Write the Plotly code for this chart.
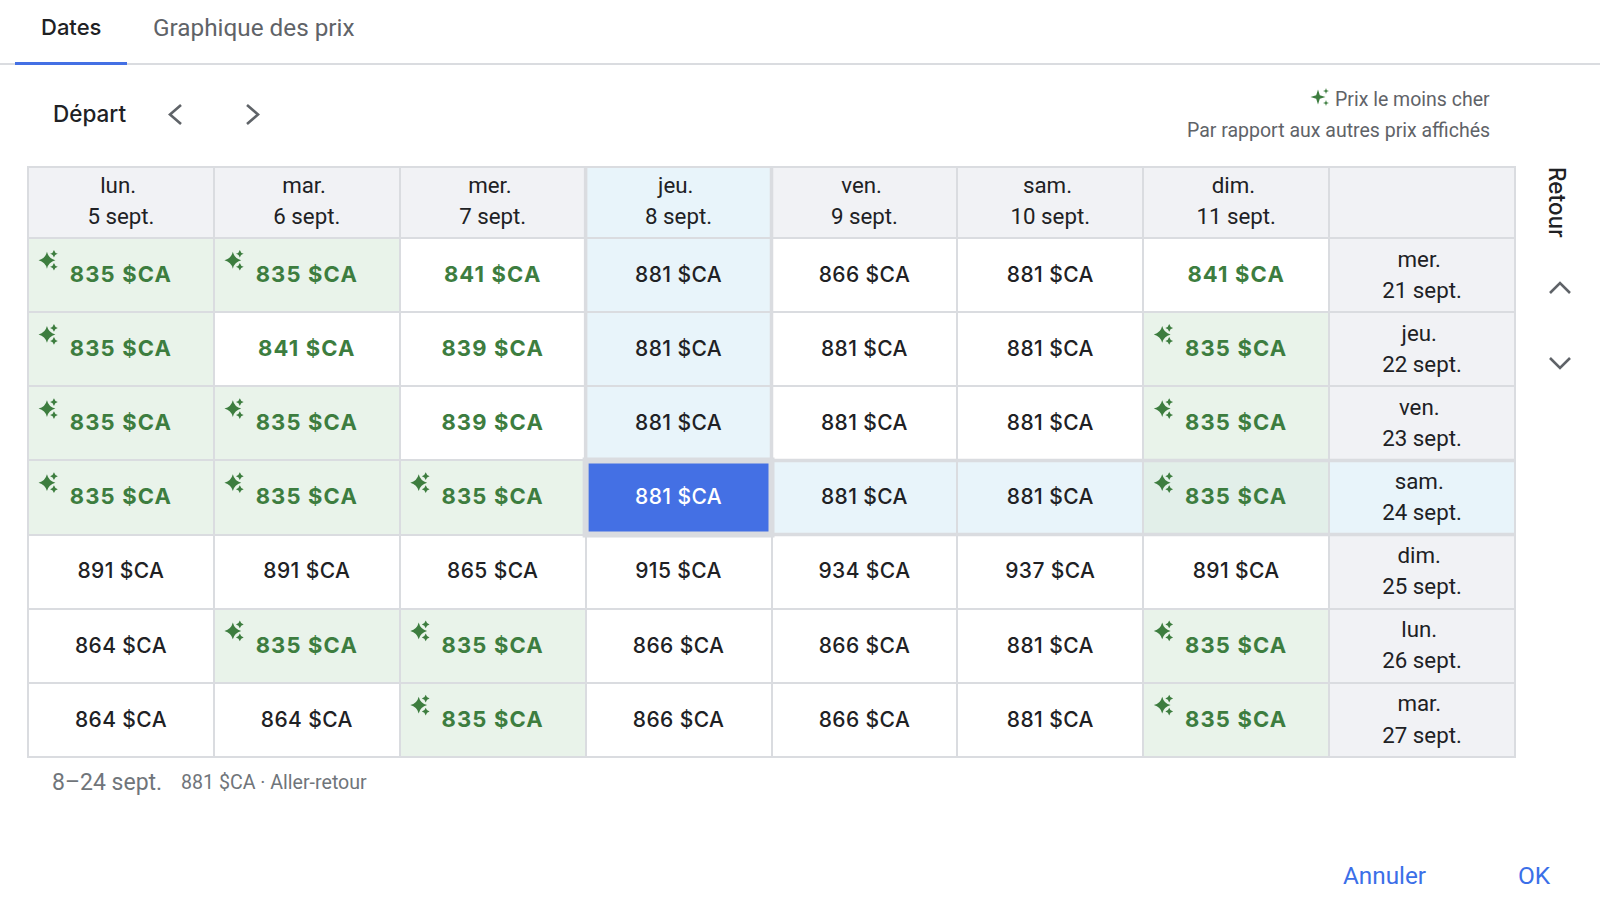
import plotly.graph_objects as go

# ---------- data ----------
dep_weekdays = ["lun.", "mar.", "mer.", "jeu.", "ven.", "sam.", "dim."]
dep_dates = ["5 sept.", "6 sept.", "7 sept.", "8 sept.", "9 sept.", "10 sept.", "11 sept."]
ret_weekdays = ["mer.", "jeu.", "ven.", "sam.", "dim.", "lun.", "mar."]
ret_dates = ["21 sept.", "22 sept.", "23 sept.", "24 sept.", "25 sept.", "26 sept.", "27 sept."]
ret_21 = [835, 835, 841, 881, 866, 881, 841]
ret_22 = [835, 841, 839, 881, 881, 881, 835]
ret_23 = [835, 835, 839, 881, 881, 881, 835]
ret_24 = [835, 835, 835, 881, 881, 881, 835]
ret_25 = [891, 891, 865, 915, 934, 937, 891]
ret_26 = [864, 835, 835, 866, 866, 881, 835]
ret_27 = [864, 864, 835, 866, 866, 881, 835]
prices = [ret_21, ret_22, ret_23, ret_24, ret_25, ret_26, ret_27]
selected_col = 3
selected_row = 3
lowest_price = 835
good_price_limit = 845

# ---------- style ----------
W, H = 1600, 906
GRID = "#dadce0"
GREY = "#f1f2f5"
GREEN_BG = "#e9f3ea"
GREEN_BLUE_BG = "#e2efe9"
BLUE_BG = "#e8f4fa"
SEL = "#4470e4"
GREEN = "#3d7d3f"
INK = "#202124"
MUTED = "#5f6368"
LINK = "#3b6fe8"
FONT = "Roboto"
HEAVY = "Inter"

GRID_L, GRID_R, GRID_T, GRID_B = 28, 1515, 167, 757
ROW_PX = 74.14
COL_PX = (GRID_R - GRID_L) / 8

COLORS = ["#ffffff", GREEN_BG, BLUE_BG, SEL, GREY, GREEN_BLUE_BG]
n = len(COLORS)
colorscale = []
for i, c in enumerate(COLORS):
    colorscale += [[i / n, c], [(i + 1) / n, c]]


def state(r, c):
    p = prices[r][c]
    if r == selected_row and c == selected_col:
        return 3
    if r == selected_row and c > selected_col:
        return 5 if p == lowest_price else 2
    if c == selected_col and r < selected_row:
        return 2
    return 1 if p == lowest_price else 0


n_rows = len(prices)
n_cols = len(dep_dates)
header_h = 71 / ROW_PX
y_edges = [-0.5 - header_h] + [i - 0.5 for i in range(n_rows + 1)]
header_y = -0.5 - header_h / 2
z = [[4] * (n_cols + 1)]
for r in range(n_rows):
    label_state = 2 if r == selected_row else 4
    z.append([state(r, c) for c in range(n_cols)] + [label_state])
z[0][selected_col] = 2

fig = go.Figure()
fig.add_trace(go.Heatmap(
    z=z, x=list(range(n_cols + 1)), y=y_edges, zmin=0, zmax=n,
    colorscale=colorscale, showscale=False, xgap=2, ygap=2, hoverinfo="skip",
))


def text_trace(xs, ys, texts, color, size, font=FONT, weight=400):
    fig.add_trace(go.Scatter(
        x=xs, y=ys, text=texts, mode="text", textposition="middle center",
        textfont=dict(family=font, size=size, color=color, weight=weight),
        hoverinfo="skip", showlegend=False,
    ))


# price labels
groups = {"green": ([], [], []), "ink": ([], [], []), "white": ([], [], [])}
for r, row in enumerate(prices):
    for c, p in enumerate(row):
        key = "white" if (r, c) == (selected_row, selected_col) else ("green" if p < good_price_limit else "ink")
        groups[key][0].append(c)
        groups[key][1].append(r + 0.02)
        groups[key][2].append(f"{p} $CA")
text_trace(*groups["green"], GREEN, 22, HEAVY, 700)
text_trace(*groups["ink"], INK, 21, HEAVY, 500)
text_trace(*groups["white"], "#ffffff", 21, HEAVY, 500)


# sparkles
def sparkle(xs, ys, dx, dy):
    fig.add_trace(go.Scatter(x=xs, y=ys, mode="markers",
                             marker=dict(symbol="star-diamond", size=12, color=GREEN, line_width=0),
                             hoverinfo="skip", showlegend=False))
    fig.add_trace(go.Scatter(x=[x + dx for x in xs] * 2,
                             y=[y - dy for y in ys] + [y + dy for y in ys], mode="markers",
                             marker=dict(symbol="star-diamond", size=5.5, color=GREEN, line_width=0),
                             hoverinfo="skip", showlegend=False))


low_cells = [(c, r) for r, row in enumerate(prices) for c, p in enumerate(row) if p == lowest_price]
spark_dx = 7 / COL_PX
spark_dy = 6.5 / ROW_PX
sparkle([c - 0.398 for c, r in low_cells], [r - 0.2 for c, r in low_cells], spark_dx, spark_dy)

# header labels (two lines each)
text_trace([c - 0.015 for c in range(n_cols)], [header_y - 0.21] * n_cols, dep_weekdays, INK, 22.3)
text_trace([c for c in range(n_cols)], [header_y + 0.212] * n_cols, dep_dates, INK, 22.3)
text_trace([n_cols - 0.015] * n_rows, [r - 0.19 for r in range(n_rows)], ret_weekdays, INK, 22.3)
text_trace([n_cols] * n_rows, [r + 0.23 for r in range(n_rows)], ret_dates, INK, 22.3)

# selection cross
sc, sr = selected_col, selected_row
THICK = 3.5
shapes = [
    dict(type="line", x0=sc - .5, x1=sc - .5, y0=y_edges[0], y1=sr - .5, line=dict(color=GRID, width=THICK)),
    dict(type="line", x0=sc + .5, x1=sc + .5, y0=y_edges[0], y1=sr - .5, line=dict(color=GRID, width=THICK)),
    dict(type="line", x0=sc + .5, x1=n_cols + .5, y0=sr - .5, y1=sr - .5, line=dict(color=GRID, width=THICK)),
    dict(type="line", x0=sc + .5, x1=n_cols + .5, y0=sr + .5, y1=sr + .5, line=dict(color=GRID, width=THICK)),
    dict(type="rect", x0=sc - .5, x1=sc + .5, y0=sr - .5, y1=sr + .5, line=dict(color=GRID, width=6)),
]


def px_x(v):
    return v / W


def px_y(v):
    return 1 - v / H


def chrome_path(points, color=MUTED, width=2.6):
    d = "M " + " L ".join(f"{px_x(x):.5f},{px_y(y):.5f}" for x, y in points)
    shapes.append(dict(type="path", path=d, xref="paper", yref="paper", line=dict(color=color, width=width)))


def star_path(cx, cy, r):
    k = r * 0.24
    pts = [(cx, cy - r), (cx + k, cy - k), (cx + r, cy), (cx + k, cy + k),
           (cx, cy + r), (cx - k, cy + k), (cx - r, cy), (cx - k, cy - k)]
    d = "M " + " L ".join(f"{px_x(x):.5f},{px_y(y):.5f}" for x, y in pts) + " Z"
    shapes.append(dict(type="path", path=d, xref="paper", yref="paper", fillcolor=GREEN, line_width=0))


# tab rules
shapes.append(dict(type="rect", xref="paper", yref="paper", x0=0, x1=1, y0=px_y(65), y1=px_y(63),
                   fillcolor=GRID, line_width=0))
shapes.append(dict(type="rect", xref="paper", yref="paper", x0=px_x(15), x1=px_x(127), y0=px_y(65), y1=px_y(62),
                   fillcolor="#4470e4", line_width=0))
# chevrons
chrome_path([(181, 105), (170, 114.5), (181, 124)])
chrome_path([(247, 105), (258, 114.5), (247, 124)])
chrome_path([(1550, 293), (1560, 283), (1570, 293)])
chrome_path([(1550, 358), (1560, 368), (1570, 358)])
# legend sparkle
star_path(1318, 97, 7.5)
star_path(1326, 91, 3)
star_path(1326, 103, 3)

annotations = []


def note(x, y, text, size, color=INK, weight=400, anchor="center", angle=0, font=FONT):
    annotations.append(dict(
        xref="paper", yref="paper", x=px_x(x), y=px_y(y), text=text, showarrow=False,
        xanchor=anchor, yanchor="middle", textangle=angle,
        font=dict(family=font, size=size, color=color, weight=weight)))


note(70.5, 27, "Dates", 22, INK, 500, font=HEAVY)
note(254, 27, "Graphique des prix", 24.3, MUTED, 400)
note(89, 114, "Départ", 22.5, INK, 500, font=HEAVY)
note(1492, 99, "Prix le moins cher", 19.5, MUTED, 400, "right")
note(1492, 130, "Par rapport aux autres prix affichés", 19.5, MUTED, 400, "right")
note(1558, 202, "Retour", 22.5, INK, 500, angle=90, font=HEAVY)
note(50, 782, "8–24 sept.", 23, "#70757a", 400, "left")
note(179, 782.5, "881 $CA · Aller-retour", 19.6, "#70757a", 400, "left")
note(1384, 875, "Annuler", 24.3, LINK, 400)
note(1534.5, 875, "OK", 24.5, LINK, 400)

fig.update_layout(
    width=W, height=H, margin=dict(l=0, r=0, t=0, b=0),
    paper_bgcolor="#ffffff", plot_bgcolor=GRID, showlegend=False,
    xaxis=dict(domain=[GRID_L / W, GRID_R / W], range=[-0.5, n_cols + 0.5], showticklabels=False,
               showgrid=False, zeroline=False, ticks="", showline=True, linecolor=GRID, linewidth=1, mirror=True),
    yaxis=dict(domain=[1 - GRID_B / H, 1 - GRID_T / H], range=[n_rows - 0.5, y_edges[0]], showticklabels=False,
               showgrid=False, zeroline=False, ticks="", showline=True, linecolor=GRID, linewidth=1, mirror=True),
    shapes=shapes, annotations=annotations,
)

post = """
document.body.style.margin='0';document.body.style.overflow='hidden';
document.querySelectorAll('.textpoint text').forEach(function(t){
  if(/\\$CA/.test(t.textContent)){
    t.style.letterSpacing = (t.style.fontWeight=='700' || t.style.fontWeight=='bold') ? '1.15px' : '0.4px';
  }
});
"""
fig.write_html("out.html", config={"displayModeBar": False}, post_script=post)
